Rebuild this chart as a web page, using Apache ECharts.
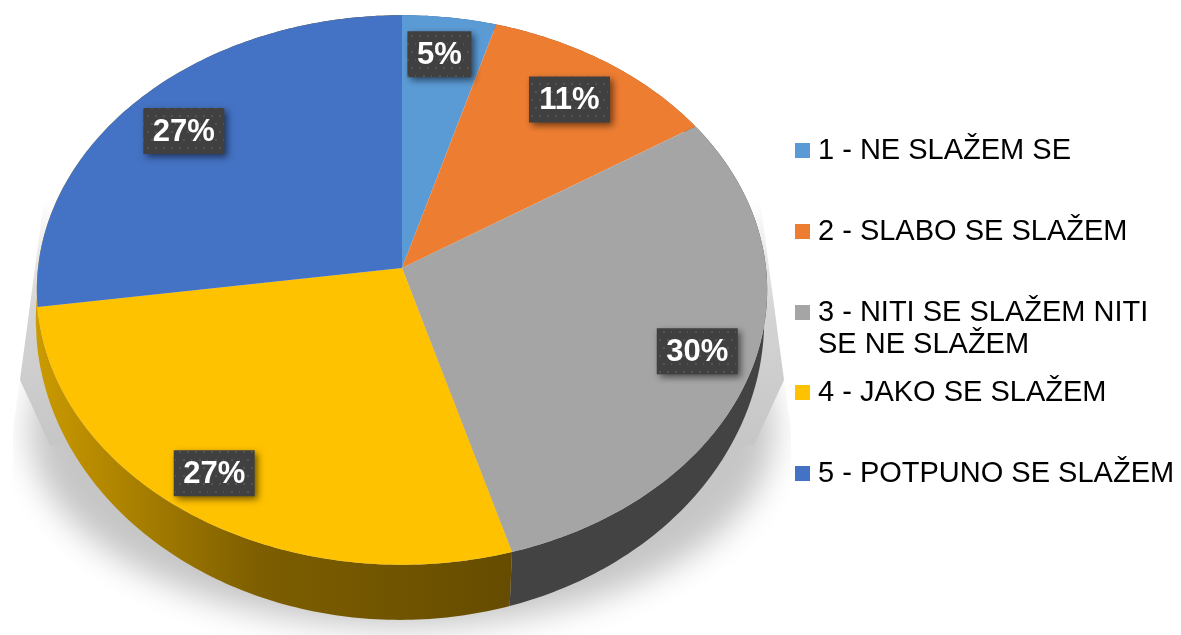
<!DOCTYPE html>
<html>
<head>
<meta charset="utf-8">
<style>
  html, body { margin: 0; padding: 0; background: #fff; }
  #chart { width: 1181px; height: 635px; }
</style>
</head>
<body>
<div id="chart"></div>
<script src="https://cdn.jsdelivr.net/npm/echarts@6/dist/echarts.min.js"></script>
<script>
// data (slices look a bit off from the printed rounded labels)
const categories = ['1 - NE SLAŽEM SE', '2 - SLABO SE SLAŽEM', '3 - NITI SE SLAŽEM NITI', '4 - JAKO SE SLAŽEM', '5 - POTPUNO SE SLAŽEM']
const categoryExtraLine = 'SE NE SLAŽEM'
const values = [4.5, 11.4, 29.6, 27.25, 27.25]

const colors = ['#5B9BD5', '#ED7D31', '#A5A5A5', '#FFC200', '#4472C4']
const goldWall = {
  type: 'linear', x: 37, y: 0, x2: 510, y2: 0, global: true,
  colorStops: [
    { offset: 0, color: '#CB9A00' },
    { offset: 0.47, color: '#7D5E00' },
    { offset: 1, color: '#664C00' }
  ]
}
const wallColors = ['#2F5D8A', '#8A4A1C', '#434343', goldWall, goldWall]
const legendCenters = [149.5, 230.5, 311.5, 391.5, 472.5]
const labelNudge = [[-3, -1], [-6, 6], [2, 1], [-12, 1], [3, 7]]

// perspective disc
const top3d = { cx: 402, cy: 268, a: 364, b: 273 }
const bottom3d = { cx: 400, cy: 296, a: 363, b: 298 }
const tilt = 0.08
const labelRadius = 0.84

const total = values.reduce((s, v) => s + v, 0)
const angleAt = (i) => values.slice(0, i).reduce((s, v) => s + v, 0) / total * Math.PI * 2

const project = (disc, ang, r = 1) => {
  const w = 1 + tilt * r * Math.cos(ang)
  return [disc.cx + disc.a * r * Math.sin(ang) / w, disc.cy - disc.b * r * Math.cos(ang) / w]
}

const rim = (disc, a0, a1) => {
  const steps = Math.max(2, Math.ceil((a1 - a0) / 0.015))
  const pts = []
  for (let i = 0; i <= steps; i++) pts.push(project(disc, a0 + (a1 - a0) * i / steps))
  return pts
}

// dotted fill of the label boxes
const makeDots = () => {
  const c = document.createElement('canvas')
  c.width = 16
  c.height = 16
  const ctx = c.getContext('2d')
  ctx.fillStyle = '#404040'
  ctx.fillRect(0, 0, 16, 16)
  ctx.fillStyle = '#545454'
  ctx.fillRect(3, 3, 2, 2)
  ctx.fillRect(11, 3, 2, 2)
  ctx.fillRect(7, 11, 2, 2)
  ctx.fillRect(15, 11, 1, 2)
  return c
}
const dotFill = { image: makeDots(), repeat: 'repeat' }

const ellipseShadow = () => ({
  // only the blurred shadow lands on the page, the shape itself is off to the left
  type: 'ellipse',
  silent: true,
  shape: { cx: 402 - 3000, cy: 430, rx: 372, ry: 197 },
  style: { fill: '#c6c6c6', shadowColor: '#c6c6c6', shadowBlur: 32, shadowOffsetX: 3000 }
})

// the picture's shadow stops dead along two slanted lines, white covers what the blur spills over them
const shadowMasks = () => [
  [[0, 180], [46, 180], [13, 430], [13, 480], [0, 480]],
  [[758, 180], [791, 430], [791, 480], [812, 480], [812, 180]]
].map((points) => ({ type: 'polygon', silent: true, shape: { points }, style: { fill: '#fff' } }))

const backWedge = () => ({
  type: 'polygon',
  silent: true,
  shape: { points: [[44, 200], [760, 200], [784, 380], [754, 445], [50, 445], [20, 380]] },
  style: {
    fill: {
      type: 'linear', x: 0, y: 0, x2: 0, y2: 1,
      colorStops: [
        { offset: 0, color: '#ffffff' },
        { offset: 0.45, color: '#d4d4d4' },
        { offset: 1, color: '#c6c6c6' }
      ]
    }
  }
})

const renderWall = (params, api) => {
  const i = params.dataIndex
  const a0 = angleAt(i)
  const a1 = a0 + api.value(0) / total * Math.PI * 2
  const points = rim(top3d, a0, a1).concat(rim(bottom3d, a0, a1).reverse())
  const children = [{ type: 'polygon', shape: { points }, style: { fill: wallColors[i] } }]
  if (i === 0) children.unshift(ellipseShadow(), ...shadowMasks(), backWedge())
  return { type: 'group', children }
}

const renderSlice = (i) => (params, api) => {
  const a0 = angleAt(i)
  const a1 = a0 + api.value(0) / total * Math.PI * 2
  const points = [[top3d.cx, top3d.cy]].concat(rim(top3d, a0, a1))
  return { type: 'polygon', shape: { points }, style: { fill: colors[i] } }
}

const renderLabel = (params, api) => {
  const i = params.dataIndex
  const v = api.value(0)
  const mid = angleAt(i) + v / total * Math.PI
  const base = project(top3d, mid, labelRadius)
  const x = base[0] + labelNudge[i][0]
  const y = base[1] + labelNudge[i][1]
  const text = Math.round(v) + '%'
  const w = text.length === 2 ? 64 : 81
  return {
    type: 'group',
    children: [
      {
        type: 'rect',
        shape: { x: x - w / 2, y: y - 23, width: w, height: 46 },
        style: { fill: dotFill, shadowColor: 'rgba(0,0,0,0.55)', shadowBlur: 7, shadowOffsetX: 3, shadowOffsetY: 3 }
      },
      {
        type: 'text',
        style: {
          x, y: y + 1, text, fill: '#fff', align: 'center', verticalAlign: 'middle',
          font: 'bold 31px "Liberation Sans", Arial, sans-serif'
        }
      }
    ]
  }
}

const chart = echarts.init(document.getElementById('chart'))
chart.setOption({
  animation: false,
  legend: categories.map((name, i) => ({
    data: [name],
    left: 795,
    top: legendCenters[i] - 15,
    icon: 'rect',
    itemWidth: 15,
    itemHeight: 15,
    itemGap: 0,
    padding: 0,
    selectedMode: false,
    textStyle: {
      color: '#000', fontSize: 29, fontFamily: '"Liberation Sans", Arial, sans-serif',
      lineHeight: 30, padding: [2, 0, 0, 3]
    }
  })),
  graphic: [{
    type: 'text',
    left: 818,
    top: 330,
    z: 100,
    style: { text: categoryExtraLine, fill: '#000', font: '29px "Liberation Sans", Arial, sans-serif' }
  }],
  series: [
    { type: 'custom', coordinateSystem: 'none', silent: true, renderItem: renderWall, data: values.map((v) => [v]) },
    ...categories.map((name, i) => ({
      type: 'custom',
      name,
      coordinateSystem: 'none',
      silent: true,
      itemStyle: { color: colors[i] },
      renderItem: renderSlice(i),
      data: [[values[i]]]
    })),
    { type: 'custom', coordinateSystem: 'none', silent: true, renderItem: renderLabel, data: values.map((v) => [v]) }
  ]
})
</script>
</body>
</html>
